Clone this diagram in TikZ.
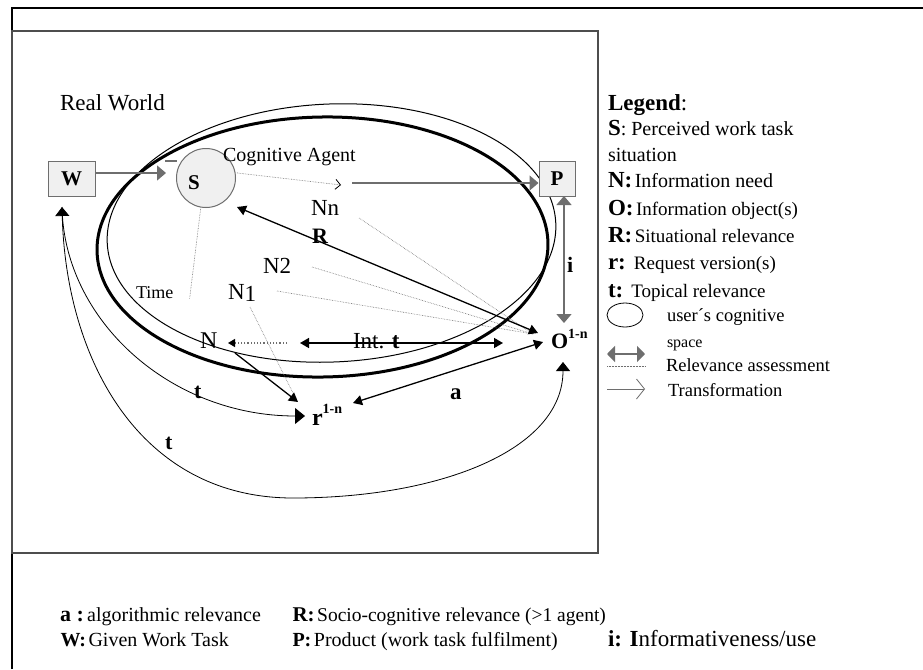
\documentclass[tikz,border=0pt]{standalone}
\usepackage{fontspec}
\setmainfont{Liberation Serif}
\usetikzlibrary{arrows.meta}
\definecolor{boxfill}{HTML}{F0F0F0}
\definecolor{gline}{HTML}{6E6E6E}
\newcommand\fsz[1]{\fontsize{#1}{#1}\selectfont}
\tikzset{
  bh/.tip={Triangle[length=9pt,width=10pt]},
  gh/.tip={Triangle[length=9pt,width=15pt]},
  bigh/.tip={Triangle[length=10pt,width=16pt]},
}
\begin{document}
\begin{tikzpicture}[x=1pt,y=-1pt,
  lbl/.style={inner sep=0pt,outer sep=0pt,anchor=base west},
  boxnode/.style={draw=gline,fill=boxfill,line width=1pt,minimum width=47pt,minimum height=35pt,inner sep=0pt,font=\fsz{21}\bfseries},
  garrow/.style={gline,line width=1.3pt},
  barrow/.style={black,line width=1.3pt},
  rel/.style={gline,densely dotted,line width=0.6pt},
]
\useasboundingbox (0,0) rectangle (923,669);
\fill[white] (0,0) rectangle (923,669);
% frames
\draw[line width=2.4pt] (12,669) -- (12,8) -- (923,8);
\draw[gline!70!black, line width=1.2pt] (12,31) rectangle (598,553);

% cognitive space outlines
\draw[line width=1pt, rotate around={2.5:(331.5,233)}] (331.5,233) ellipse [x radius=224.5, y radius=129];
\draw[line width=3pt, rotate around={1:(322.5,247)}] (322.5,247) ellipse [x radius=225.5, y radius=130];

% main nodes
\node[boxnode] (W) at (71.5,178.5) {W};
\node[boxnode, minimum width=36pt] (P) at (557,178.5) {P};
\node[circle, draw=gline, fill=boxfill, minimum size=59pt, inner sep=0pt, line width=1pt] (S) at (206,178) {};
\node[lbl, font=\fsz{21}\bfseries] (Slbl) at (188,189) {S};
\node[lbl] (CA) at (223,161) {\fsz{20}Cognitive Agent};
\node[lbl] (RW) at (60,110) {\fsz{23}Real World};
\node[lbl] (Nn) at (311,215) {\fsz{23}Nn};
\node[lbl] (N2) at (263,273) {\fsz{23}N2};
\node[lbl] (N1) at (228,299) {\fsz{23}N\raisebox{-2pt}{1}};
\node[lbl] (Time) at (136,298) {\fsz{18}Time};
\node[lbl] (N) at (200,348) {\fsz{24}N};
\node[lbl] (O) at (551,348) {\fsz{22}\bfseries O\raisebox{10pt}{\fsz{14}1-n}};
\node[lbl] (r) at (312,425) {\fsz{24}\bfseries r\raisebox{12pt}{\fsz{14}1-n}};

% coordinates
\coordinate (WSa) at (95,173);
\coordinate (WSb) at (166,173);
\coordinate (Sd) at (341,185);
\coordinate (Pa) at (352,183);
\coordinate (Pb) at (564,196);
\coordinate (Ot) at (564,323);
\coordinate (Ob) at (563,362);
\coordinate (Oc) at (533,334);
\coordinate (SR) at (237,207);
\coordinate (OR) at (538,333);
\coordinate (Nna) at (359,218);
\coordinate (N2a) at (312,267);
\coordinate (N1a) at (277,291);
\coordinate (N1b) at (250,307);
\coordinate (rN1) at (295,397);
\coordinate (Na) at (287,343);
\coordinate (Nb) at (228,343);
\coordinate (It1) at (300,343);
\coordinate (It2) at (503,343);
\coordinate (Nr1) at (235,353);
\coordinate (rN) at (298,402);
\coordinate (ra) at (353,403);
\coordinate (Oa) at (543,342);
\coordinate (Wb) at (62,207);
\coordinate (rt) at (305,416);
\coordinate (Tm) at (189.5,299.5);

% small dash
\draw[gline, line width=1.5pt] (165,161) -- (177,161);

% transformations / assessments
\draw[garrow,-gh] (WSa) -- (WSb);
\draw[rel,-{Straight Barb[length=5pt,width=10pt,color=black,line width=0.8pt]}] (S.10) -- (Sd);
\draw[garrow,-gh] (Pa) -- (P.west |- Pa);
\draw[garrow,gh-gh] (Pb) -- (Ot);
\draw[rel] (S.260) -- (Tm);
\draw[rel] (Nna) -- (Oc);
\draw[rel] (N2a) -- (Oc);
\draw[rel] (N1a) -- (Oc);
\draw[rel] (N1b) -- (rN1);
\draw[barrow,bh-bh] (SR) -- (OR);
\draw[line width=1.5pt,bh-bh] (It1) -- (It2);
\draw[gline,dotted,line width=1.2pt,-{Triangle[length=7pt,width=8pt,color=black]}] (Na) -- (Nb);
\draw[barrow,-bh] (Nr1) -- (rN);
\draw[barrow,bh-bh] (ra) -- (Oa);
\draw[line width=0.8pt,-bigh] (Wb) .. controls (64,320) and (170,416) .. (rt);
\draw[line width=0.8pt,{Triangle[length=9pt,width=14pt]}-{Triangle[length=9pt,width=14pt]}] (Wb) .. controls (66,360) and (140,498) .. (293,498) .. controls (440,498) and (563,450) .. (Ob);

% labels on connectors
\node[lbl] (Rl) at (312,243) {\fsz{22}\bfseries R};
\node[lbl] (il) at (567,272) {\fsz{22}\bfseries i};
\node[lbl] (It) at (353,348) {\fsz{23}Int. \bfseries t};
\node[lbl] (al) at (450,399) {\fsz{23}\bfseries a};
\node[lbl] (t1) at (194,398) {\fsz{22}\bfseries t};
\node[lbl] (t2) at (165,449) {\fsz{22}\bfseries t};

% legend
\node[lbl] (L0) at (608,110) {\fsz{23}\bfseries Legend\mdseries:};
\node[lbl] (L1) at (608,135) {{\fsz{23}\bfseries S}\fsz{20}: Perceived work task};
\node[lbl] (L1b) at (608,161) {\fsz{20}situation};
\node[lbl] (L2) at (608,187) {{\fsz{23}\bfseries N:} \fsz{20}Information need};
\node[lbl] (L3) at (608,215) {{\fsz{23}\bfseries O:} \fsz{19}Information object(s)};
\node[lbl] (L4) at (608,242) {{\fsz{23}\bfseries R:} \fsz{19}Situational relevance};
\node[lbl] (L5) at (608,269) {{\fsz{23}\bfseries r:} \fsz{19}\ Request version(s)};
\node[lbl] (L6) at (608,297) {{\fsz{23}\bfseries t:} \fsz{19}\ Topical relevance};
\draw[line width=0.8pt] (625,315) ellipse [x radius=18, y radius=12];
\node[lbl] (L7) at (667,321) {\fsz{18.5}user´s cognitive};
\node[lbl] (L7b) at (667,347) {\fsz{16}space};
\coordinate (la1) at (607,354);
\coordinate (la2) at (645,354);
\draw[gline,line width=2pt,{Triangle[length=8pt,width=16pt]}-{Triangle[length=8pt,width=16pt]}] (la1) -- (la2);
\coordinate (ld1) at (607,366);
\coordinate (ld2) at (645,366);
\draw[rel,line width=0.5pt] (ld1) -- (ld2);
\node[lbl] (L8) at (666,371) {\fsz{18.5}Relevance assessment};
\coordinate (lt1) at (607,389);
\coordinate (lt2) at (645,389);
\draw[gline,line width=0.8pt,-{Straight Barb[length=8pt,width=20pt]}] (lt1) -- (lt2);
\node[lbl] (L9) at (668,396) {\fsz{18.5}Transformation};

% bottom legend
\node[lbl] (B1) at (60,621) {{\fsz{22}\bfseries a :} \fsz{20}algorithmic relevance};
\node[lbl] (B2) at (292.5,621) {{\fsz{21}\bfseries R:} \fsz{19.5}Socio-cognitive relevance (>1 agent)};
\node[lbl] (B3) at (60.5,646) {{\fsz{20}\bfseries W:} \fsz{20}Given Work Task};
\node[lbl] (B4) at (292.5,646) {{\fsz{20}\bfseries P:} \fsz{20}Product (work task fulfilment)};
\node[lbl] (B5) at (608,646) {\fsz{23}{\bfseries i: I}nformativeness/use};
\end{tikzpicture}
\end{document}
